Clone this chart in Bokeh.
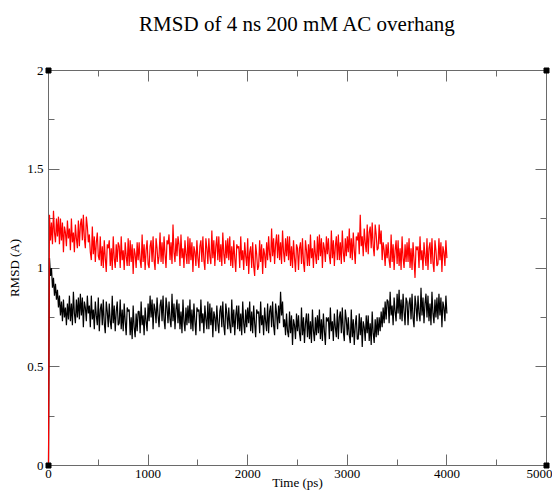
from bokeh.plotting import figure
from bokeh.models import Range1d, LinearAxis, SingleIntervalTicker, CustomJSTickFormatter
from bokeh.embed import file_html
from bokeh.resources import INLINE

title_text = "RMSD of 4 ns 200 mM AC overhang"
x_label = "Time (ps)"
y_label = "RMSD (A)"
x_min, x_max = 0, 5000
y_min, y_max = 0, 2
y_ticks = [0, 0.5, 1, 1.5, 2]
y_tick_labels = ["0", "0.5", "1", "1.5", "2"]

time_ps = list(range(0, 4001, 10))

rmsd_black = [0.0,
    1.05, 0.96, 1.00, 0.90, 0.95, 0.86, 0.92, 0.84, 0.89, 0.80,
    0.86, 0.76, 0.83, 0.73, 0.84, 0.75, 0.80, 0.71, 0.82, 0.74,
    0.86, 0.73, 0.82, 0.71, 0.88, 0.77, 0.72, 0.84, 0.75, 0.85,
    0.74, 0.87, 0.76, 0.85, 0.70, 0.83, 0.80, 0.73, 0.86, 0.77,
    0.81, 0.70, 0.86, 0.74, 0.79, 0.69, 0.83, 0.76, 0.71, 0.85,
    0.68, 0.79, 0.82, 0.71, 0.84, 0.72, 0.67, 0.83, 0.78, 0.70,
    0.82, 0.73, 0.69, 0.86, 0.72, 0.81, 0.68, 0.78, 0.83, 0.71,
    0.72, 0.84, 0.69, 0.79, 0.68, 0.82, 0.73, 0.66, 0.80, 0.78,
    0.79, 0.66, 0.75, 0.64, 0.81, 0.70, 0.65, 0.77, 0.68, 0.78,
    0.78, 0.67, 0.83, 0.71, 0.76, 0.66, 0.80, 0.73, 0.68, 0.82,
    0.73, 0.86, 0.75, 0.84, 0.69, 0.82, 0.79, 0.72, 0.85, 0.76,
    0.70, 0.81, 0.84, 0.73, 0.86, 0.74, 0.69, 0.85, 0.80, 0.72,
    0.83, 0.74, 0.70, 0.87, 0.73, 0.82, 0.69, 0.79, 0.84, 0.72,
    0.82, 0.69, 0.78, 0.67, 0.84, 0.73, 0.68, 0.80, 0.71, 0.81,
    0.72, 0.84, 0.69, 0.79, 0.68, 0.82, 0.73, 0.66, 0.80, 0.78,
    0.79, 0.68, 0.84, 0.72, 0.77, 0.67, 0.81, 0.74, 0.69, 0.83,
    0.69, 0.82, 0.71, 0.80, 0.65, 0.78, 0.75, 0.68, 0.81, 0.72,
    0.67, 0.78, 0.81, 0.70, 0.83, 0.71, 0.66, 0.82, 0.77, 0.69,
    0.80, 0.71, 0.67, 0.84, 0.70, 0.79, 0.66, 0.76, 0.81, 0.69,
    0.81, 0.68, 0.77, 0.66, 0.83, 0.72, 0.67, 0.79, 0.70, 0.80,
    0.72, 0.83, 0.68, 0.78, 0.67, 0.81, 0.72, 0.65, 0.79, 0.77,
    0.78, 0.67, 0.83, 0.71, 0.76, 0.66, 0.80, 0.73, 0.68, 0.82,
    0.67, 0.78, 0.81, 0.70, 0.83, 0.71, 0.66, 0.82, 0.77, 0.69,
    0.81, 0.72, 0.88, 0.76, 0.83, 0.70, 0.74, 0.66, 0.77, 0.68,
    0.65, 0.78, 0.67, 0.76, 0.61, 0.74, 0.71, 0.64, 0.77, 0.68,
    0.76, 0.67, 0.63, 0.80, 0.66, 0.75, 0.62, 0.72, 0.77, 0.65,
    0.77, 0.64, 0.73, 0.62, 0.79, 0.68, 0.63, 0.75, 0.66, 0.76,
    0.67, 0.79, 0.64, 0.74, 0.63, 0.77, 0.68, 0.61, 0.75, 0.73,
    0.75, 0.64, 0.80, 0.68, 0.73, 0.63, 0.77, 0.70, 0.65, 0.79,
    0.64, 0.75, 0.78, 0.67, 0.80, 0.68, 0.63, 0.79, 0.74, 0.66,
    0.75, 0.66, 0.62, 0.79, 0.65, 0.74, 0.61, 0.71, 0.76, 0.64,
    0.64, 0.77, 0.66, 0.75, 0.60, 0.73, 0.70, 0.63, 0.76, 0.67,
    0.76, 0.63, 0.72, 0.61, 0.78, 0.67, 0.62, 0.74, 0.65, 0.75,
    0.66, 0.75, 0.68, 0.78, 0.70, 0.80, 0.72, 0.83, 0.74, 0.84,
    0.83, 0.72, 0.88, 0.76, 0.81, 0.71, 0.85, 0.78, 0.73, 0.87,
    0.77, 0.89, 0.74, 0.84, 0.73, 0.87, 0.78, 0.71, 0.85, 0.83,
    0.71, 0.82, 0.85, 0.74, 0.87, 0.75, 0.70, 0.86, 0.81, 0.73,
    0.86, 0.77, 0.73, 0.90, 0.76, 0.85, 0.72, 0.82, 0.87, 0.75,
    0.86, 0.73, 0.82, 0.71, 0.88, 0.77, 0.72, 0.84, 0.75, 0.85,
    0.74, 0.87, 0.76, 0.85, 0.70, 0.83, 0.80, 0.73, 0.86, 0.77,
]

rmsd_red = [0.0,
    1.27, 1.14, 1.23, 1.12, 1.29, 1.18, 1.13, 1.25, 1.16, 1.26,
    1.12, 1.25, 1.14, 1.23, 1.08, 1.21, 1.18, 1.11, 1.24, 1.15,
    1.20, 1.09, 1.25, 1.13, 1.18, 1.08, 1.22, 1.15, 1.10, 1.24,
    1.11, 1.22, 1.25, 1.14, 1.27, 1.15, 1.10, 1.26, 1.21, 1.13,
    1.17, 1.08, 1.04, 1.21, 1.07, 1.16, 1.03, 1.13, 1.18, 1.06,
    1.04, 1.16, 1.01, 1.11, 1.00, 1.14, 1.05, 0.98, 1.12, 1.10,
    1.14, 1.01, 1.10, 0.99, 1.16, 1.05, 1.00, 1.12, 1.03, 1.13,
    1.11, 1.00, 1.16, 1.04, 1.09, 0.99, 1.13, 1.06, 1.01, 1.15,
    1.01, 1.14, 1.03, 1.12, 0.97, 1.10, 1.07, 1.00, 1.13, 1.04,
    1.13, 1.04, 1.00, 1.17, 1.03, 1.12, 0.99, 1.09, 1.14, 1.02,
    1.00, 1.11, 1.14, 1.03, 1.16, 1.04, 0.99, 1.15, 1.10, 1.02,
    1.06, 1.18, 1.03, 1.13, 1.02, 1.16, 1.07, 1.00, 1.14, 1.12,
    1.17, 1.04, 1.13, 1.02, 1.22, 1.08, 1.03, 1.15, 1.06, 1.16,
    1.12, 1.01, 1.17, 1.05, 1.10, 1.00, 1.14, 1.07, 1.02, 1.16,
    1.02, 1.15, 1.04, 1.13, 0.98, 1.11, 1.08, 1.01, 1.14, 1.05,
    1.00, 1.11, 1.14, 1.03, 1.16, 1.04, 0.99, 1.15, 1.10, 1.02,
    1.15, 1.06, 1.02, 1.19, 1.05, 1.14, 1.01, 1.11, 1.16, 1.04,
    1.16, 1.03, 1.12, 1.01, 1.18, 1.07, 1.02, 1.14, 1.05, 1.15,
    1.04, 1.16, 1.01, 1.11, 1.00, 1.14, 1.05, 0.98, 1.12, 1.10,
    1.11, 1.00, 1.16, 1.04, 1.09, 0.99, 1.13, 1.06, 1.01, 1.15,
    0.97, 1.08, 1.11, 1.00, 1.13, 1.01, 0.96, 1.12, 1.07, 0.99,
    1.01, 1.14, 1.03, 1.12, 0.97, 1.10, 1.07, 1.00, 1.13, 1.04,
    1.16, 1.07, 1.03, 1.20, 1.06, 1.15, 1.02, 1.12, 1.17, 1.05,
    1.17, 1.04, 1.13, 1.02, 1.19, 1.08, 1.03, 1.15, 1.06, 1.16,
    1.04, 1.16, 1.01, 1.11, 1.00, 1.14, 1.05, 0.98, 1.12, 1.10,
    0.99, 1.10, 1.13, 1.02, 1.15, 1.03, 0.98, 1.14, 1.09, 1.01,
    1.12, 1.01, 1.17, 1.05, 1.10, 1.00, 1.14, 1.07, 1.02, 1.16,
    1.04, 1.17, 1.06, 1.15, 1.00, 1.13, 1.10, 1.03, 1.16, 1.07,
    1.15, 1.06, 1.02, 1.19, 1.05, 1.14, 1.01, 1.11, 1.16, 1.04,
    1.17, 1.04, 1.13, 1.02, 1.19, 1.08, 1.03, 1.15, 1.06, 1.16,
    1.08, 1.20, 1.05, 1.15, 1.04, 1.18, 1.09, 1.02, 1.16, 1.14,
    1.18, 1.07, 1.27, 1.11, 1.16, 1.06, 1.20, 1.13, 1.08, 1.22,
    1.07, 1.18, 1.21, 1.10, 1.23, 1.11, 1.06, 1.22, 1.17, 1.09,
    1.10, 1.22, 1.12, 1.19, 1.04, 1.13, 1.09, 1.01, 1.12, 1.05,
    1.13, 1.04, 1.00, 1.17, 1.03, 1.12, 0.99, 1.09, 1.14, 1.02,
    1.14, 1.01, 1.10, 0.99, 1.16, 1.05, 1.00, 1.12, 1.03, 1.13,
    1.03, 1.15, 1.00, 1.10, 0.99, 1.13, 1.04, 0.95, 1.11, 1.09,
    1.11, 1.00, 1.16, 1.04, 1.09, 0.99, 1.13, 1.06, 1.01, 1.15,
    0.99, 1.10, 1.13, 1.02, 1.15, 1.03, 0.98, 1.14, 1.09, 1.01,
    1.02, 1.15, 1.04, 1.13, 0.98, 1.11, 1.08, 1.01, 1.14, 1.05,
]

corner_x = [x_min, x_min, x_max, x_max]
corner_y = [y_min, y_max, y_max, y_min]

FONT = "Liberation Serif"
AXIS_COLOR = "#6a6a6a"

p = figure(frame_width=498, frame_height=395, output_backend="svg", toolbar_location=None,
           x_range=Range1d(x_min, x_max), y_range=Range1d(y_min, y_max),
           min_border_left=48, min_border_right=6, min_border_top=70, min_border_bottom=20)
p.grid.visible = False
p.outline_line_color = AXIS_COLOR
p.background_fill_color = "white"
p.border_fill_color = "white"

def style_axis(ax, show_labels):
    ax.axis_line_color = AXIS_COLOR
    ax.major_tick_line_color = AXIS_COLOR
    ax.minor_tick_line_color = AXIS_COLOR
    ax.major_tick_in = 11
    ax.major_tick_out = 0
    ax.minor_tick_in = 6
    ax.minor_tick_out = 0
    if show_labels:
        ax.major_label_text_font = FONT
        ax.major_label_text_font_size = "13px"
        ax.major_label_text_color = "black"
        ax.axis_label_text_font = FONT
        ax.axis_label_text_font_size = "13px"
        ax.axis_label_text_font_style = "normal"
        ax.axis_label_text_color = "black"
    else:
        ax.formatter = CustomJSTickFormatter(code="return ''")
        ax.major_label_standoff = 0

xa = p.xaxis[0]
xa.ticker = SingleIntervalTicker(interval=1000, num_minor_ticks=2)
xa.axis_label = x_label
style_axis(xa, True)
xa.major_label_standoff = 4
xa.axis_label_standoff = -6

ya = p.yaxis[0]
ya.ticker = SingleIntervalTicker(interval=0.5, num_minor_ticks=2)
ya.axis_label = y_label
ya.major_label_overrides = {t: s for t, s in zip(y_ticks, y_tick_labels)}
style_axis(ya, True)
ya.major_label_standoff = 5
ya.axis_label_standoff = 2

# top frame axis: its axis label carries the chart title
top_ax = LinearAxis(ticker=SingleIntervalTicker(interval=1000, num_minor_ticks=2))
style_axis(top_ax, False)
top_ax.axis_label = title_text
top_ax.axis_label_text_font = FONT
top_ax.axis_label_text_font_size = "21px"
top_ax.axis_label_text_font_style = "normal"
top_ax.axis_label_text_color = "black"
top_ax.axis_label_standoff = 35
p.add_layout(top_ax, "above")

right_ax = LinearAxis(ticker=SingleIntervalTicker(interval=0.5, num_minor_ticks=2))
style_axis(right_ax, False)
p.add_layout(right_ax, "right")

p.line(time_ps, rmsd_black, line_color="black", line_width=1.2, level="overlay")
p.line(time_ps, rmsd_red, line_color="#ff0000", line_width=1.2, level="overlay")
p.scatter(corner_x, corner_y, marker="square", size=5, fill_color="black",
          line_color="black", level="overlay")

open("out.html", "w").write(file_html(p, INLINE))
